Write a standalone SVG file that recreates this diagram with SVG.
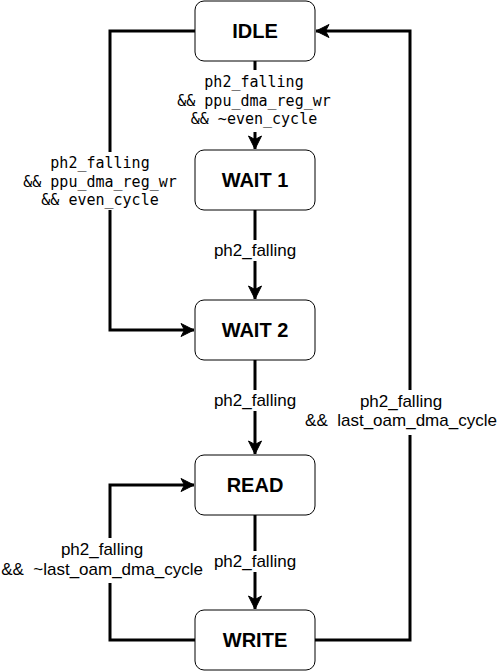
<svg xmlns="http://www.w3.org/2000/svg" width="497" height="671" viewBox="0 0 497 671">
<style>
.node rect{fill:#fff;stroke:#000;stroke-width:1}
.node text{font-family:"Liberation Sans",Arial,sans-serif;font-weight:bold;font-size:20px;text-anchor:middle;fill:#000}
.edge{fill:none;stroke:#000;stroke-width:3}
.bg{fill:#fff}
.mono{font-family:"DejaVu Sans Mono",monospace;font-size:15px;text-anchor:middle;fill:#000}
.sans{font-family:"Liberation Sans",Arial,sans-serif;font-size:17px;text-anchor:middle;fill:#000}
</style>
<defs>
<marker id="arr" markerUnits="userSpaceOnUse" markerWidth="16" markerHeight="16" viewBox="-14 -8 16 16" refX="0" refY="0" orient="auto">
<path d="M0,0 L-13,-6.5 L-9.5,0 L-13,6.5 Z" fill="#000" stroke="#000" stroke-width="1"/>
</marker>
</defs>
<g id="connectors">
<path class="edge" d="M255,61 V149" marker-end="url(#arr)"/>
<path class="edge" d="M195,31 H110 V330 H194" marker-end="url(#arr)"/>
<path class="edge" d="M255,210 V299" marker-end="url(#arr)"/>
<path class="edge" d="M255,360 V454" marker-end="url(#arr)"/>
<path class="edge" d="M255,515 V609" marker-end="url(#arr)"/>
<path class="edge" d="M195,640 H110 V485 H194" marker-end="url(#arr)"/>
<path class="edge" d="M315,640 H410 V31 H316" marker-end="url(#arr)"/>
<g id="label-idle-wait1">
<rect class="bg" x="170" y="70" width="170" height="62"/>
<text class="mono" x="254" y="87">ph2_falling</text>
<text class="mono" x="254" y="105.5">&amp;&amp; ppu_dma_reg_wr</text>
<text class="mono" x="254" y="124">&amp;&amp; ~even_cycle</text>
</g>
<g id="label-idle-wait2">
<rect class="bg" x="18" y="152" width="164" height="58"/>
<text class="mono" x="100" y="168">ph2_falling</text>
<text class="mono" x="100" y="186.5">&amp;&amp; ppu_dma_reg_wr</text>
<text class="mono" x="100" y="205">&amp;&amp; even_cycle</text>
</g>
<g id="label-wait1-wait2">
<rect class="bg" x="210" y="240" width="90" height="21"/>
<text class="sans" x="255" y="256">ph2_falling</text>
</g>
<g id="label-wait2-read">
<rect class="bg" x="210" y="390" width="90" height="21"/>
<text class="sans" x="255" y="406">ph2_falling</text>
</g>
<g id="label-read-write">
<rect class="bg" x="210" y="551" width="90" height="21"/>
<text class="sans" x="255" y="567">ph2_falling</text>
</g>
<g id="label-write-idle">
<rect class="bg" x="303" y="390" width="194" height="45"/>
<text class="sans" x="401" y="407">ph2_falling</text>
<text class="sans" x="401" y="426" xml:space="preserve">&amp;&amp;  last_oam_dma_cycle</text>
</g>
<g id="label-write-read">
<rect class="bg" x="0" y="538" width="205" height="45"/>
<text class="sans" x="102" y="555">ph2_falling</text>
<text class="sans" x="102" y="575" xml:space="preserve">&amp;&amp;  ~last_oam_dma_cycle</text>
</g>
</g>
<g id="node-idle" class="node">
<rect x="195" y="1" width="120" height="60" rx="9"/>
<text x="255" y="38">IDLE</text>
</g>
<g id="node-wait1" class="node">
<rect x="195" y="150" width="120" height="60" rx="9"/>
<text x="255" y="187">WAIT 1</text>
</g>
<g id="node-wait2" class="node">
<rect x="195" y="300" width="120" height="60" rx="9"/>
<text x="255" y="337">WAIT 2</text>
</g>
<g id="node-read" class="node">
<rect x="195" y="455" width="120" height="60" rx="9"/>
<text x="255" y="492">READ</text>
</g>
<g id="node-write" class="node">
<rect x="195" y="610" width="120" height="60" rx="9"/>
<text x="255" y="647">WRITE</text>
</g>
</svg>
